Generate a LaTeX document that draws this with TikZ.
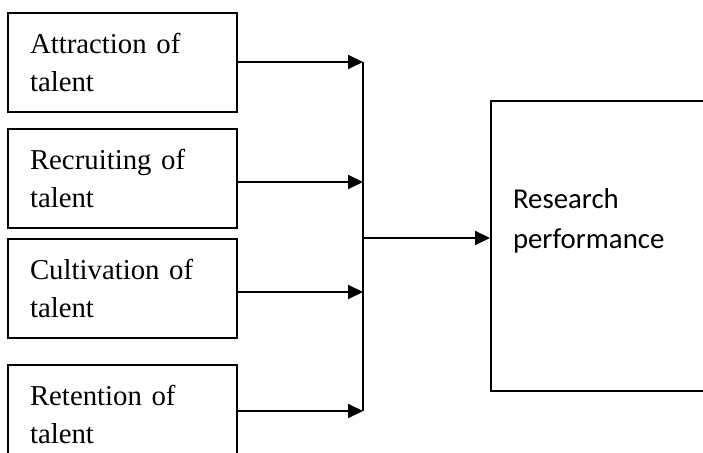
\documentclass[tikz,border=0pt]{standalone}
\usepackage{fontspec}
\setmainfont{Liberation Serif}
\newfontfamily\calib{Carlito}
\usetikzlibrary{arrows.meta}
\begin{document}
\begin{tikzpicture}[x=1pt,y=-1pt,
  line width=2pt,
  srcbox/.style={draw, rectangle, minimum width=229pt, minimum height=99pt,
    inner xsep=22pt, inner ysep=0pt, text width=185pt, align=left,
    font=\fontsize{28.8}{38.3}\selectfont},
  conn/.style={-{Triangle[length=15pt,width=14pt]}},
  lbl/.style={anchor=base west, inner sep=0pt, align=left}]
\clip (0,0) rectangle (703,452);
\fill[white] (0,0) rectangle (703,452);
\node[srcbox] (a1) at (122.5,62.5) {Attraction of\\talent};
\node[srcbox] (a2) at (122.5,178.5) {Recruiting of\\talent};
\node[srcbox] (a3) at (122.5,288.5) {Cultivation of\\talent};
\node[srcbox] (a4) at (122.5,414.5) {Retention of\\talent};
\node[draw, rectangle, minimum width=229pt, minimum height=290pt] (rp) at (605.5,246) {};
\node[lbl, font=\calib\fontsize{28.8}{40}\selectfont] (rpt) at (512,248) {Research\\performance};
\coordinate (b1) at (363,62);
\coordinate (b2) at (363,182);
\coordinate (b3) at (363,292);
\coordinate (b4) at (363,411);
\coordinate (bm) at (363,238);
\draw[conn] (b1 -| a1.east) -- (b1);
\draw[conn] (b2 -| a2.east) -- (b2);
\draw[conn] (b3 -| a3.east) -- (b3);
\draw[conn] (b4 -| a4.east) -- (b4);
\draw (b1) -- (b4);
\draw[conn] (bm) -- (bm -| rp.west);
\end{tikzpicture}
\end{document}
